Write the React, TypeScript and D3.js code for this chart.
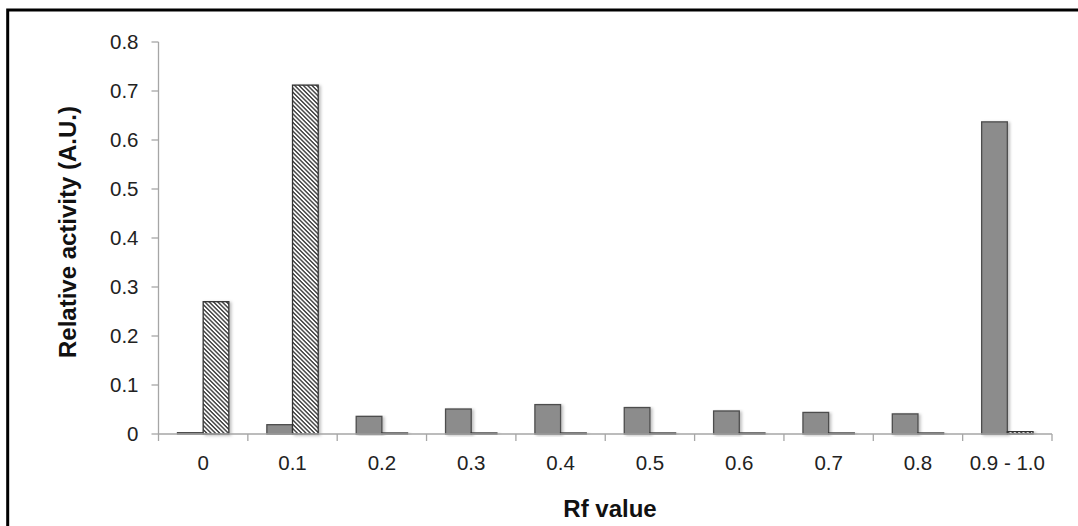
import * as d3 from 'd3';
import React from 'react';

const categories = ['0', '0.1', '0.2', '0.3', '0.4', '0.5', '0.6', '0.7', '0.8', '0.9 - 1.0'];
const solidValues = [0.003, 0.019, 0.036, 0.051, 0.06, 0.054, 0.047, 0.044, 0.041, 0.637];
const hatchedValues = [0.27, 0.712, 0.002, 0.002, 0.002, 0.002, 0.002, 0.002, 0.002, 0.005];
const yTicks = [0, 0.1, 0.2, 0.3, 0.4, 0.5, 0.6, 0.7, 0.8];
const series = ['solid', 'hatched'];

const W = 1078;
const H = 526;
const left = 158.5;
const right = 1052;
const top = 42;
const bottom = 434;
const font = '"Liberation Sans", Arial, sans-serif';

export default function App() {
  const x = d3.scaleBand().domain(categories).range([left, right]).padding(0);
  const xi = d3.scaleBand().domain(series).range([0, x.bandwidth()]).paddingInner(0).paddingOuter(0.74);
  const y = d3.scaleLinear().domain([0, 0.8]).range([bottom, top]);
  const bw = xi.bandwidth();

  // category boundaries for tick marks
  const bounds = categories.map((c) => x(c)).concat([right]);

  return (
    <div style={{ position: 'absolute', left: 0, top: 0 }}>
      <svg width={W} height={H} style={{ display: 'block', background: '#fff' }}>
        <defs>
          <pattern id="hatch" patternUnits="userSpaceOnUse" width="6" height="3.05" patternTransform="rotate(45)">
            <rect width="6" height="3.05" fill="#fff" />
            <line x1="0" y1="1.5" x2="6" y2="1.5" stroke="#111" strokeWidth="1.15" />
          </pattern>
          <filter id="shadow" x="-20%" y="-5%" width="160%" height="115%">
            <feDropShadow dx="2" dy="1" stdDeviation="1.5" floodColor="#000" floodOpacity="0.25" />
          </filter>
        </defs>

        {/* frame */}
        <path d={`M7.7,${H + 5} V10 H${W + 5}`} fill="none" stroke="#000" strokeWidth={3} />

        {/* y axis */}
        <line x1={left} x2={left} y1={top} y2={bottom} stroke="#a6a6a6" strokeWidth={1.3} />
        {yTicks.map((t) => (
          <g key={t}>
            <line x1={left - 7} x2={left} y1={y(t)} y2={y(t)} stroke="#a6a6a6" strokeWidth={1.3} />
            <text x={left - 20} y={y(t)} dy="0.36em" textAnchor="end" fontFamily={font} fontSize={20.5} fill="#222">
              {d3.format('~g')(t)}
            </text>
          </g>
        ))}

        {/* bars */}
        {categories.map((c, i) => (
          <g key={c}>
            <rect
              x={(x(c) as number) + (xi('solid') as number)}
              y={y(solidValues[i])}
              width={bw}
              height={bottom - y(solidValues[i])}
              fill="#8c8c8c"
              stroke="#4d4d4d"
              strokeWidth={1.3}
              filter="url(#shadow)"
            />
            <rect
              x={(x(c) as number) + (xi('hatched') as number)}
              y={y(hatchedValues[i])}
              width={bw}
              height={bottom - y(hatchedValues[i])}
              fill="url(#hatch)"
              stroke="#333"
              strokeWidth={1.3}
              filter="url(#shadow)"
            />
          </g>
        ))}

        {/* x axis */}
        <line x1={left} x2={right} y1={bottom} y2={bottom} stroke="#a6a6a6" strokeWidth={1.3} />
        {bounds.map((b, i) => (
          <line key={i} x1={b} x2={b} y1={bottom} y2={bottom + 7} stroke="#a6a6a6" strokeWidth={1.3} />
        ))}
        {categories.map((c) => (
          <text
            key={c}
            x={(x(c) as number) + x.bandwidth() / 2}
            y={470}
            textAnchor="middle"
            fontFamily={font}
            fontSize={20.5}
            fill="#222"
          >
            {c}
          </text>
        ))}

        <text x={610} y={517} textAnchor="middle" fontFamily={font} fontSize={24} fontWeight="bold" fill="#111">
          Rf value
        </text>
        <text
          transform={`translate(76,232) rotate(-90)`}
          textAnchor="middle"
          fontFamily={font}
          fontSize={24}
          fontWeight="bold"
          fill="#111"
        >
          Relative activity (A.U.)
        </text>
      </svg>
    </div>
  );
}
